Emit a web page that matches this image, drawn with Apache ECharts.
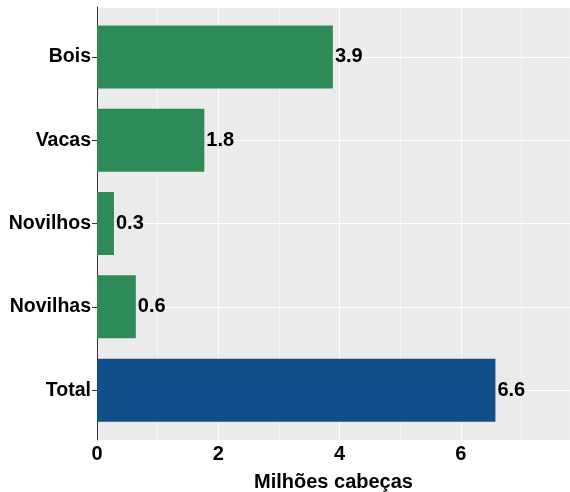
<!DOCTYPE html>
<html><head><meta charset="utf-8">
<script src="https://cdn.jsdelivr.net/npm/echarts@6/dist/echarts.min.js"></script>
<style>html,body{margin:0;padding:0;background:#fff}#c{width:570px;height:492px}</style>
</head><body><div id="c"></div>
<script>
const categories = ['Bois', 'Vacas', 'Novilhos', 'Novilhas', 'Total'];
const values = [3.89, 1.77, 0.28, 0.64, 6.57];
const xTicks = [0, 2, 4, 6];
const axisTitle = 'Milhões cabeças';

const GREEN = '#2E8B57', BLUE = '#114E8A';
const FONT = '"Liberation Sans", Arial, sans-serif';
const chart = echarts.init(document.getElementById('c'), null, {renderer: 'canvas'});
const XMAX = 7.8;
chart.setOption({
  animation: false,
  grid: [
    {left: 97, right: 0, top: 7, height: 433, show: true, backgroundColor: '#EBEBEB', borderWidth: 0, containLabel: false, outerBoundsMode: 'none'},
    {left: 97, right: 0, top: 15.3, height: 416.5, show: false, containLabel: false, outerBoundsMode: 'none'}
  ],
  xAxis: [
    {type: 'value', gridIndex: 0, min: 0, max: XMAX, interval: 2,
     axisLine: {show: false},
     axisTick: {show: true, length: 5, lineStyle: {color: '#333', width: 1}},
     axisLabel: {show: true, margin: 4, color: '#000', fontSize: 20, fontWeight: 'bold', fontFamily: FONT, showMaxLabel: false,
       formatter: v => xTicks.includes(v) ? String(v) : ''},
     splitLine: {show: true, lineStyle: {color: '#fff', width: 1.1}},
     minorTick: {show: false, splitNumber: 2},
     minorSplitLine: {show: true, lineStyle: {color: '#fff', width: 0.55}},
     name: axisTitle, nameLocation: 'middle', nameGap: 32,
     nameTextStyle: {color: '#000', fontSize: 20, fontWeight: 'bold', fontFamily: FONT}},
    {type: 'value', gridIndex: 1, min: 0, max: XMAX, show: false}
  ],
  yAxis: [
    {type: 'value', gridIndex: 0, min: -0.6, max: 4.6, splitNumber: 5,
     axisLine: {show: true, lineStyle: {color: '#333', width: 1}},
     axisTick: {show: false}, axisLabel: {show: false},
     splitLine: {show: true, lineStyle: {color: '#fff', width: 1.1}}},
    {type: 'category', gridIndex: 1, data: categories, inverse: true,
     axisLine: {show: false},
     axisTick: {show: true, alignWithLabel: true, length: 5, lineStyle: {color: '#333', width: 1}},
     axisLabel: {margin: 6, color: '#000', fontSize: 19.5, fontWeight: 'bold', fontFamily: FONT},
     splitLine: {show: false}}
  ],
  series: [{
    type: 'bar', xAxisIndex: 1, yAxisIndex: 1,
    data: values, barWidth: 63,
    itemStyle: {color: p => p.name === 'Total' ? BLUE : GREEN},
    label: {show: true, position: 'right', distance: 2, color: '#000', fontSize: 20, fontWeight: 'bold', fontFamily: FONT,
      formatter: p => p.value.toFixed(1)}
  }]
});
</script></body></html>
